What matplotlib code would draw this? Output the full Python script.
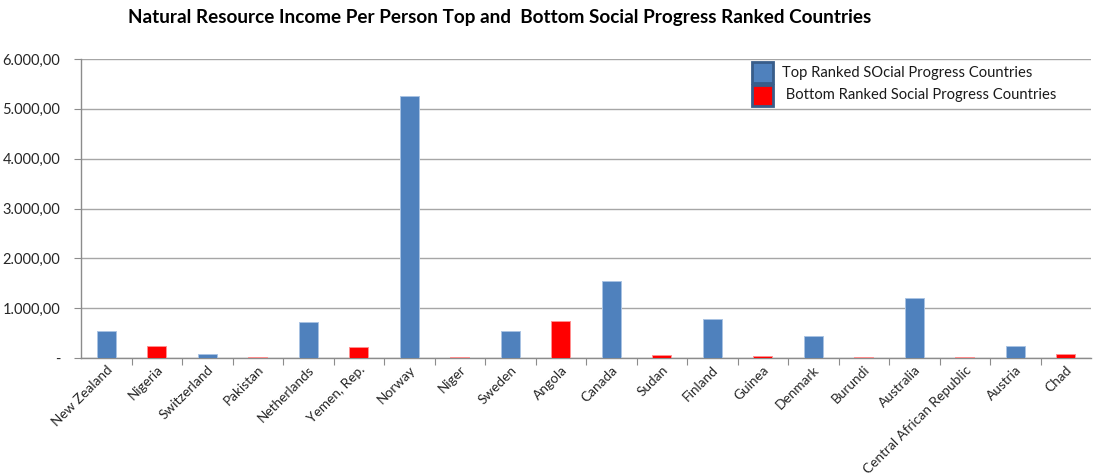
import matplotlib
matplotlib.use("Agg")
import matplotlib.pyplot as plt
from matplotlib.patches import Rectangle
from matplotlib.ticker import FuncFormatter

plt.rcParams['font.family'] = ['Lato', 'DejaVu Sans']

countries = ["New Zealand", "Nigeria", "Switzerland", "Pakistan", "Netherlands",
             "Yemen, Rep.", "Norway", "Niger", "Sweden", "Angola", "Canada",
             "Sudan", "Finland", "Guinea", "Denmark", "Burundi", "Australia",
             "Central African Republic", "Austria", "Chad"]
income = [535, 245, 72, 25, 730, 220, 5250, 20, 550, 750, 1545, 52, 775, 48,
          448, 20, 1210, 20, 245, 78]
group = ["top", "bottom"] * 10

top_label = "Top Ranked SOcial Progress Countries"
bottom_label = " Bottom Ranked Social Progress Countries"
colors = {"top": "#4F81BD", "bottom": "#FF0000"}
title = "Natural Resource Income Per Person Top and  Bottom Social Progress Ranked Countries"
y_ticks = [0, 1000, 2000, 3000, 4000, 5000, 6000]

W, H = 1093, 476
fig = plt.figure(figsize=(W / 100, H / 100), dpi=100)
ax = fig.add_axes([81 / W, 1 - 358 / H, 1010 / W, 299 / H])

x = list(range(len(countries)))
ax.bar(x, income, width=0.38, color=[colors[g] for g in group],
       edgecolor=["#A9C3E3" if g == "top" else "#FF9090" for g in group],
       linewidth=0.7, zorder=3)

ax.set_xlim(-0.5, len(countries) - 0.5)
ax.set_ylim(0, 6000)
ax.set_yticks(y_ticks)


def fmt(v, pos):
    if v == 0:
        return "-"
    s = f"{v:,.2f}"
    return s.replace(",", "X").replace(".", ",").replace("X", ".")


ax.yaxis.set_major_formatter(FuncFormatter(fmt))
ax.grid(axis="y", color="#A6A6A6", linewidth=1.0, zorder=0)
ax.set_axisbelow(True)

# category separators as x tick marks, labels at category centres
ax.set_xticks([i + 0.5 for i in x[:-1]], minor=False)
ax.set_xticklabels([])
ax.set_xticks(x, minor=True)
ax.set_xticklabels(countries, minor=True, rotation=45, ha="right",
                   rotation_mode="anchor", fontsize=9.8, color="#262626")
ax.tick_params(axis="x", which="minor", length=0, pad=4)
ax.tick_params(axis="x", which="major", length=5, color="#8C8C8C", direction="out")
ax.tick_params(axis="y", length=5, color="#8C8C8C", labelsize=10.5,
               labelcolor="#262626", pad=10)

for s in ["top", "right"]:
    ax.spines[s].set_visible(False)
for s in ["left", "bottom"]:
    ax.spines[s].set_color("#8C8C8C")
    ax.spines[s].set_linewidth(1.0)

fig.text(0.457, 0.963, title, ha="center", va="center", fontsize=13.6,
         fontweight="bold", color="#000000")

# legend drawn as square swatches with labels in figure pixel space
legend_rows = [(top_label, colors["top"], 62), (bottom_label, colors["bottom"], 85)]
for label, col, ytop in legend_rows:
    fig.add_artist(Rectangle((752 / W, 1 - (ytop + 21) / H), 21 / W, 21 / H,
                             transform=fig.transFigure, facecolor=col,
                             edgecolor="#385D8A", linewidth=2.0))
    fig.text(782 / W, 1 - (ytop + 10.5) / H, label, ha="left", va="center",
             fontsize=10.6, color="#1a1a1a")

fig.savefig("out.png", dpi=100)
